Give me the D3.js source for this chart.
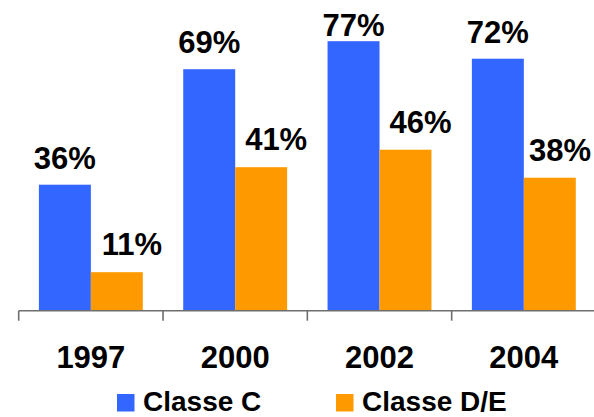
<!DOCTYPE html>
<html>
<head>
<meta charset="utf-8">
<script src="https://cdn.jsdelivr.net/npm/d3@7"></script>
<style>
  html, body { margin: 0; padding: 0; background: #fff; }
  svg { display: block; }
  text { font-family: "Liberation Sans", Arial, Helvetica, sans-serif; font-weight: bold; fill: #000; }
</style>
</head>
<body>
<svg id="chart" width="594" height="417"></svg>
<script>
const categories = ["1997", "2000", "2002", "2004"];
const seriesNames = ["Classe C", "Classe D/E"];
const classeC = [36, 69, 77, 72];
const classeDE = [11, 41, 46, 38];
const colors = ["#3366FF", "#FF9900"];

const svg = d3.select("#chart");
const W = 594, H = 417;
const baseY = 310.7;

const x = d3.scaleBand().domain(categories).range([18.7, 596]).paddingInner(0.28).paddingOuter(0.14);
const xs = d3.scaleBand().domain(seriesNames).range([0, x.bandwidth()]);
const y = d3.scaleLinear().domain([0, 80]).range([baseY, baseY - 280]);

const rows = categories.map((c, i) => ({ cat: c, vals: [classeC[i], classeDE[i]] }));

const g = svg.append("g");
rows.forEach(r => {
  r.vals.forEach((v, k) => {
    g.append("rect")
      .attr("x", x(r.cat) + xs(seriesNames[k]))
      .attr("y", y(v))
      .attr("width", xs.bandwidth())
      .attr("height", baseY - y(v))
      .attr("fill", colors[k]);
  });
});

// value labels
rows.forEach(r => {
  r.vals.forEach((v, k) => {
    let cx = x(r.cat) + xs(seriesNames[k]) + xs.bandwidth() / 2 + (k === 1 ? 15 : 0);
    cx = Math.min(cx, W - 34);
    const by = k === 0 ? Math.max(y(v) - 16, 36) : y(v) - 17;
    g.append("text")
      .attr("x", cx)
      .attr("y", by)
      .attr("text-anchor", "middle")
      .style("font-size", "31px")
      .text(v + "%");
  });
});

// axis
const step = x.step();
const x0 = x.range()[0];
svg.append("line")
  .attr("x1", x0).attr("x2", W).attr("y1", baseY).attr("y2", baseY)
  .attr("stroke", "#6e6e6e").attr("stroke-width", 1.6);
d3.range(categories.length + 1).forEach(i => {
  const tx = x0 + i * step;
  svg.append("line")
    .attr("x1", tx).attr("x2", tx).attr("y1", baseY).attr("y2", baseY + 10)
    .attr("stroke", "#6e6e6e").attr("stroke-width", 1.6);
});
categories.forEach(c => {
  svg.append("text")
    .attr("x", x(c) + x.bandwidth() / 2)
    .attr("y", 368)
    .attr("text-anchor", "middle")
    .style("font-size", "31px")
    .text(c);
});

// legend
const legendX = [117, 336];
seriesNames.forEach((s, k) => {
  svg.append("rect")
    .attr("x", legendX[k]).attr("y", 394)
    .attr("width", 17.5).attr("height", 17.5)
    .attr("fill", colors[k]);
  svg.append("text")
    .attr("x", legendX[k] + 26).attr("y", 410.5)
    .style("font-size", "28px")
    .text(s);
});
</script>
</body>
</html>
